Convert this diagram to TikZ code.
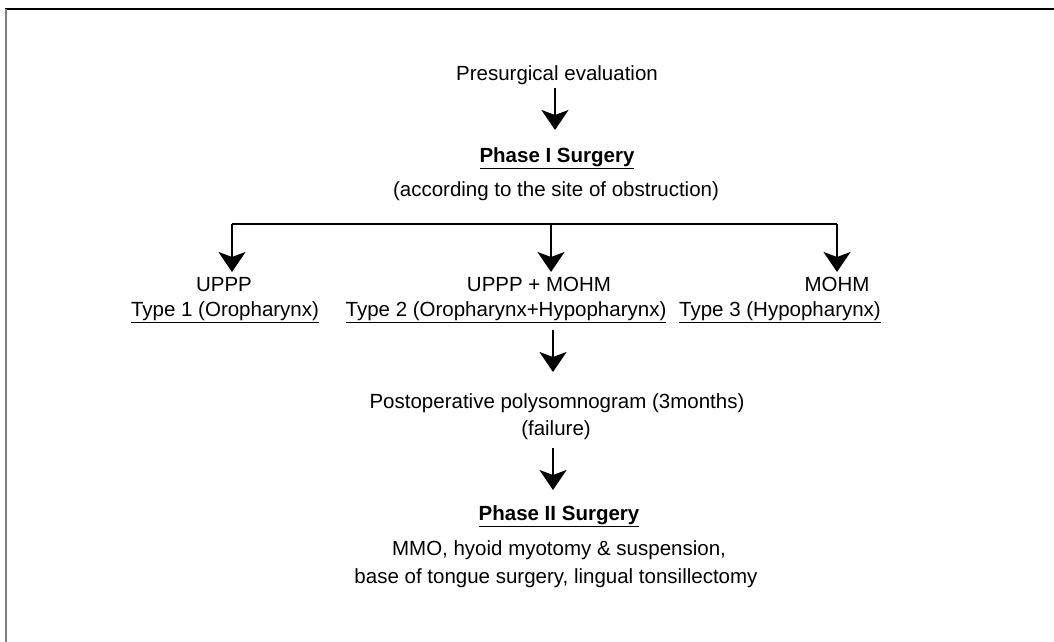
\documentclass[tikz,border=0pt]{standalone}
\usepackage{fontspec}
\setmainfont{Liberation Sans}
\usetikzlibrary{arrows.meta}
\begin{document}
\begin{tikzpicture}[x=1pt,y=-1pt,
  txt/.style={inner sep=0pt,font=\fontsize{20.5}{24}\selectfont,text height=15pt,text depth=4pt},
  ttl/.style={txt,font=\fontsize{20.5}{24}\selectfont\bfseries},
  arr/.style={line width=2pt,-{Stealth[length=20pt,width=27pt,inset=5pt]}},
  lnk/.style={line width=2pt}]
\useasboundingbox (0,0) rectangle (1054,642);
\fill[white] (0,0) rectangle (1054,642);
\draw[line width=1.5pt,black] (5,9) -- (1054,9);
\draw[line width=2pt,black!50] (6,9) -- (6,642);
% nodes
\node[txt] (pre) at (557,75) {Presurgical evaluation};
\node[ttl] (ph1) at (557,157) {\underline{Phase I Surgery}};
\node[txt] (acc) at (556,191) {(according to the site of obstruction)};
\coordinate (c1) at (232,224);
\coordinate (cm) at (551,224);
\coordinate (c3) at (837,224);
\node[txt] (uppp) at (224,286) {UPPP};
\node[txt] (upmo) at (539,286) {UPPP + MOHM};
\node[txt] (mohm) at (837,286) {MOHM};
\node[txt] (t1) at (225,311) {\underline{Type 1 (Oropharynx)}};
\node[txt] (t2) at (506,311) {\underline{Type 2 (Oropharynx+Hypopharynx)}};
\node[txt] (t3) at (780,311) {\underline{Type 3 (Hypopharynx)}};
\node[txt] (post) at (557,403) {Postoperative polysomnogram (3months)};
\node[txt] (fail) at (556,430) {(failure)};
\node[ttl] (ph2) at (559,515) {\underline{Phase II Surgery}};
\node[txt] (mmo) at (559,550) {MMO, hyoid myotomy \& suspension,};
\node[txt] (base) at (556,578) {base of tongue surgery, lingual tonsillectomy};
% connectors
\coordinate (a1s) at (555,88);
\coordinate (a1e) at (555,130);
\draw[arr] (a1s) -- (a1e);
\draw[lnk] (c1) -- (c3);
\coordinate (u1) at (232,272);
\coordinate (u2) at (551,272);
\coordinate (u3) at (837,272);
\draw[arr] (c1) -- (u1);
\draw[arr] (cm) -- (u2);
\draw[arr] (c3) -- (u3);
\coordinate (a3s) at (553,330);
\coordinate (a3e) at (553,372);
\draw[arr] (a3s) -- (a3e);
\coordinate (a4s) at (553,448);
\coordinate (a4e) at (553,490);
\draw[arr] (a4s) -- (a4e);
\end{tikzpicture}
\end{document}
